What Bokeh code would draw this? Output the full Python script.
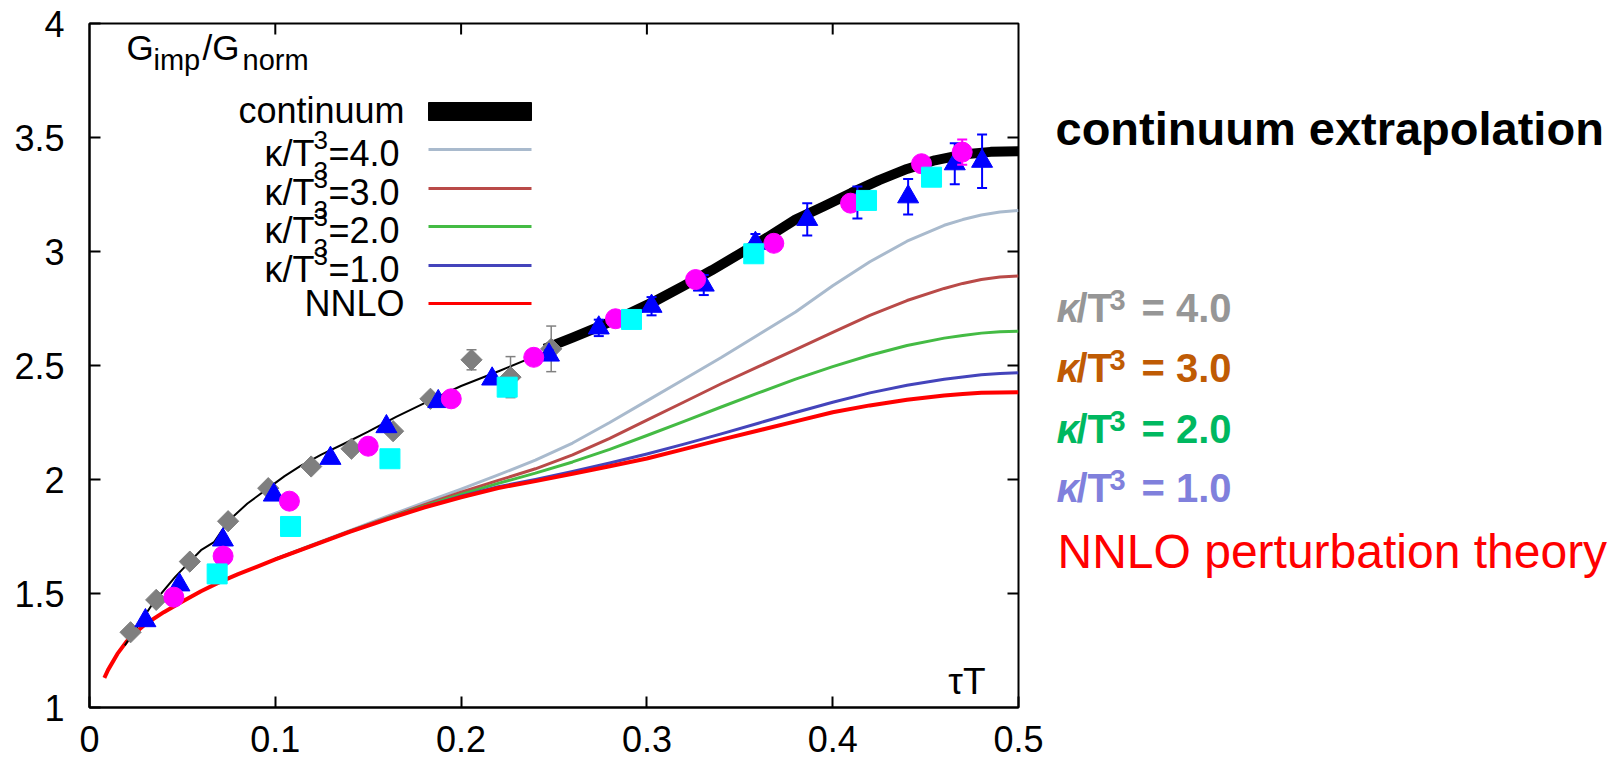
from bokeh.plotting import figure
from bokeh.layouts import row
from bokeh.models import LinearAxis, FixedTicker, Label, Range1d
from bokeh.embed import file_html
from bokeh.resources import INLINE

# ---------------- data ----------------
x_ticks = [0.0, 0.1, 0.2, 0.3, 0.4, 0.5]
x_tick_labels = ["0", "0.1", "0.2", "0.3", "0.4", "0.5"]
y_ticks = [1.0, 1.5, 2.0, 2.5, 3.0, 3.5, 4.0]
y_tick_labels = ["1", "1.5", "2", "2.5", "3", "3.5", "4"]

nnlo_x = [0.008, 0.01, 0.015, 0.02, 0.025, 0.03, 0.04, 0.05, 0.06, 0.07, 0.08, 0.09, 0.1,
          0.12, 0.14, 0.16, 0.18, 0.2, 0.22, 0.24, 0.26, 0.28, 0.3, 0.32, 0.34, 0.36, 0.38,
          0.4, 0.42, 0.44, 0.46, 0.47, 0.48, 0.49, 0.5]
nnlo_y = [1.13, 1.165, 1.235, 1.29, 1.33, 1.365, 1.418, 1.465, 1.51, 1.55, 1.585, 1.617, 1.65,
          1.71, 1.77, 1.825, 1.877, 1.922, 1.963, 1.993, 2.025, 2.058, 2.092, 2.133, 2.175, 2.215,
          2.255, 2.295, 2.325, 2.35, 2.368, 2.375, 2.38, 2.382, 2.383]

k1_x = [0.1, 0.12, 0.14, 0.16, 0.18, 0.2, 0.22, 0.24, 0.26, 0.28, 0.3, 0.32, 0.34, 0.36, 0.38,
        0.4, 0.42, 0.44, 0.46, 0.47, 0.48, 0.49, 0.5]
k1_y = [1.65, 1.71, 1.771, 1.827, 1.879, 1.927, 1.968, 2.0, 2.035, 2.072, 2.112, 2.155, 2.2,
        2.247, 2.294, 2.339, 2.38, 2.413, 2.44, 2.45, 2.459, 2.465, 2.468]

k2_x = [0.1, 0.12, 0.14, 0.16, 0.18, 0.2, 0.22, 0.24, 0.26, 0.28, 0.3, 0.32, 0.34, 0.36, 0.38,
        0.4, 0.42, 0.44, 0.46, 0.47, 0.48, 0.49, 0.5]
k2_y = [1.65, 1.711, 1.772, 1.829, 1.883, 1.935, 1.983, 2.028, 2.077, 2.132, 2.193, 2.255, 2.318,
        2.38, 2.44, 2.495, 2.545, 2.588, 2.62, 2.632, 2.642, 2.648, 2.65]

k3_x = [0.1, 0.12, 0.14, 0.16, 0.18, 0.2, 0.22, 0.24, 0.26, 0.28, 0.3, 0.32, 0.34, 0.36, 0.38,
        0.4, 0.42, 0.44, 0.46, 0.47, 0.48, 0.49, 0.5]
k3_y = [1.651, 1.712, 1.774, 1.832, 1.889, 1.944, 1.996, 2.047, 2.108, 2.18, 2.26, 2.34, 2.42,
        2.495, 2.57, 2.645, 2.72, 2.785, 2.838, 2.86, 2.877, 2.888, 2.893]

k4_x = [0.1, 0.12, 0.14, 0.16, 0.18, 0.2, 0.22, 0.24, 0.26, 0.28, 0.3, 0.32, 0.34, 0.36, 0.38,
        0.4, 0.42, 0.44, 0.46, 0.47, 0.48, 0.49, 0.5]
k4_y = [1.652, 1.714, 1.776, 1.838, 1.898, 1.958, 2.02, 2.085, 2.16, 2.25, 2.345, 2.44, 2.535,
        2.635, 2.735, 2.85, 2.955, 3.045, 3.115, 3.14, 3.16, 3.173, 3.18]

cont_thin_x = [0.019, 0.027, 0.034, 0.046, 0.054, 0.06, 0.067, 0.0746, 0.085, 0.0962, 0.105, 0.1136,
               0.125, 0.1378, 0.15, 0.165, 0.1853, 0.2, 0.2212, 0.235, 0.25]
cont_thin_y = [1.272, 1.37, 1.455, 1.572, 1.64, 1.69, 1.725, 1.817, 1.895, 1.962, 2.015, 2.06,
               2.11, 2.16, 2.21, 2.275, 2.355, 2.41, 2.478, 2.525, 2.575]

cont_x = [0.245, 0.26, 0.275, 0.29, 0.305, 0.32, 0.335, 0.35, 0.365, 0.38, 0.395, 0.41, 0.425,
          0.44, 0.455, 0.47, 0.485, 0.5]
cont_y = [2.574, 2.622, 2.673, 2.727, 2.785, 2.85, 2.918, 2.99, 3.063, 3.14, 3.197, 3.257, 3.313,
          3.362, 3.4, 3.425, 3.437, 3.44]

gray_x = [0.0221, 0.0359, 0.054, 0.0746, 0.0962, 0.1193, 0.141, 0.1634, 0.1835, 0.2056, 0.2266, 0.2485]
gray_y = [1.330, 1.472, 1.640, 1.817, 1.962, 2.057, 2.135, 2.212, 2.354, 2.525, 2.449, 2.573]
gray_err = [0.0, 0.0, 0.0, 0.0, 0.0, 0.0, 0.0, 0.0, 0.02, 0.044, 0.09, 0.10]

blue_x = [0.0301, 0.0484, 0.0718, 0.0992, 0.1297, 0.1598, 0.1877, 0.2167, 0.2473, 0.2741, 0.3025,
          0.3306, 0.3584, 0.3863, 0.4133, 0.4406, 0.4657, 0.4804]
blue_y = [1.381, 1.538, 1.735, 1.932, 2.093, 2.232, 2.342, 2.441, 2.546, 2.665, 2.76, 2.853,
          3.036, 3.141, 3.215, 3.240, 3.385, 3.396]
blue_err = [0.01, 0.01, 0.01, 0.01, 0.01, 0.01, 0.015, 0.015, 0.02, 0.036, 0.04, 0.044,
            0.041, 0.071, 0.07, 0.078, 0.09, 0.117]

mag_x = [0.0454, 0.0719, 0.1076, 0.15, 0.1947, 0.2391, 0.2831, 0.3262, 0.3683, 0.4096, 0.4478, 0.4697]
mag_y = [1.484, 1.664, 1.905, 2.146, 2.354, 2.536, 2.705, 2.877, 3.036, 3.212, 3.385, 3.436]
mag_err = [0.0, 0.0, 0.0, 0.0, 0.0, 0.0, 0.0, 0.0, 0.0, 0.0, 0.0, 0.055]

cyan_x = [0.0687, 0.1082, 0.1617, 0.2248, 0.2917, 0.3575, 0.4182, 0.4532]
cyan_y = [1.586, 1.794, 2.091, 2.405, 2.702, 2.990, 3.224, 3.326]

kappa_values = ["4.0", "3.0", "2.0", "1.0"]
kappa_line_colors = ["#a9bacd", "#b94a48", "#44bb44", "#4444bb"]
kappa_text_colors = ["#969696", "#bf5b04", "#00b860", "#8080dc"]

# ---------------- layout helpers (pixel -> data) ----------------
L, R, T, B = 89, 1018, 23, 707
PW = R + 30          # width of the plot figure
def dx(px):
    return (px - L) / (R - L) * 0.5
def dy(py):
    return 1 + (B - py) / (B - T) * 3.0

FONT = "Liberation Sans"

p = figure(width=PW, height=765, x_range=(0, 0.5), y_range=(1, 4), title=None,
           output_backend="svg", toolbar_location=None,
           x_axis_type=None, y_axis_type=None,
           min_border_left=L, min_border_right=PW - R,
           min_border_top=T, min_border_bottom=765 - B)
p.background_fill_color = "white"
p.border_fill_color = "white"
p.outline_line_color = "black"
p.outline_line_width = 2


def style_axis(ax, ticks, labels, standoff):
    ax.ticker = FixedTicker(ticks=ticks)
    ax.major_label_overrides = {t: l for t, l in zip(ticks, labels)}
    ax.major_tick_in = 11
    ax.major_tick_out = 0
    ax.major_tick_line_width = 2
    ax.major_tick_line_color = "black"
    ax.minor_tick_line_color = None
    ax.axis_line_width = 2
    ax.axis_line_color = "black"
    ax.major_label_text_font = FONT
    ax.major_label_text_color = "black"
    ax.major_label_standoff = standoff
    ax.major_label_text_font_size = "36px"


xb = LinearAxis()
style_axis(xb, x_ticks, x_tick_labels, 18)
p.add_layout(xb, "below")
yl = LinearAxis()
style_axis(yl, y_ticks, y_tick_labels, 25)
p.add_layout(yl, "left")

# mirror ticks on top and right frame edges
p.segment(x0=x_ticks[1:-1], y0=[4.0] * 4, x1=x_ticks[1:-1], y1=[dy(T + 11)] * 4,
          line_color="black", line_width=2)
p.segment(x0=[0.5] * 5, y0=y_ticks[1:-1], x1=[dx(R - 11)] * 5, y1=y_ticks[1:-1],
          line_color="black", line_width=2)

# ---------------- curves ----------------
for kx, ky, c in [(k4_x, k4_y, kappa_line_colors[0]), (k3_x, k3_y, kappa_line_colors[1]),
                  (k2_x, k2_y, kappa_line_colors[2]), (k1_x, k1_y, kappa_line_colors[3])]:
    p.line(kx, ky, line_color=c, line_width=3, line_join="round")
p.line(nnlo_x, nnlo_y, line_color="#ff0000", line_width=4, line_join="round")
p.line(cont_thin_x, cont_thin_y, line_color="black", line_width=2, line_join="round")
p.line(cont_x, cont_y, line_color="black", line_width=10, line_join="round")

# ---------------- data points with error bars ----------------
def errbars(xs, ys, es, color, lw):
    up = [y + e for y, e in zip(ys, es)]
    lo = [y - e for y, e in zip(ys, es)]
    p.segment(x0=xs, y0=lo, x1=xs, y1=up, line_color=color, line_width=lw)
    p.scatter(xs, up, marker="dash", size=10, line_color=color, line_width=lw)
    p.scatter(xs, lo, marker="dash", size=10, line_color=color, line_width=lw)

errbars(gray_x, gray_y, gray_err, "#808080", 1.5)
p.scatter(gray_x, gray_y, marker="square", angle=0.785398, size=15,
          fill_color="#7f7f7f", line_color="#7f7f7f")
errbars(blue_x, blue_y, blue_err, "#0000ff", 2)
p.scatter(blue_x, blue_y, marker="triangle", size=21, fill_color="#0000ff", line_color="#0000ff")
errbars(mag_x, mag_y, mag_err, "#ff00ff", 2)
p.scatter(mag_x, mag_y, marker="circle", size=20, fill_color="#ff00ff", line_color="#ff00ff")
p.scatter(cyan_x, cyan_y, marker="square", size=20, fill_color="#00ffff", line_color="#00ffff")

# ---------------- text helpers (vertical position = middle of the text) ----------------
def lab(fig, x, y, text, size, color="black", align="left", style="normal"):
    fig.add_layout(Label(x=x, y=y, text=text, text_font=FONT,
                         text_font_size=size, text_color=color, text_align=align,
                         text_baseline="middle", text_font_style=style))

def plab(px, py, text, size, color="black", align="left", style="normal"):
    lab(p, dx(px), dy(py), text, size, color, align, style)

# ---------------- in-plot legend ----------------
rows = [111, 149, 188, 226, 265, 303]
p.quad(left=dx(428), right=dx(531), top=dy(102), bottom=dy(120), fill_color="black", line_color="black")
plab(404, rows[0] - 1, "continuum", "36px", align="right")
for i, (v, c) in enumerate(zip(kappa_values, kappa_line_colors)):
    yy = rows[i + 1]
    p.line([dx(428), dx(531)], [dy(yy), dy(yy)], line_color=c, line_width=3)
    plab(328, yy + 4, "=" + v, "36px")
    plab(314, yy + 4, "κ/T", "36px", align="right")
    plab(313, yy - 10, "3", "26px")
    if i < 3:
        plab(313, yy + 21, "3", "26px")
p.line([dx(428), dx(531)], [dy(rows[5]), dy(rows[5])], line_color="#ff0000", line_width=3)
plab(404, rows[5], "NNLO", "36px", align="right")

# y-axis caption  G_imp / G_norm
plab(126, 47, "G", "35px")
plab(153, 59, "imp", "29px")
plab(202, 47, "/G", "35px")
plab(242, 59, "norm", "29px")
# x-axis caption
plab(985, 681, "τT", "37px", align="right")

# ---------------- right-hand annotations (separate panel) ----------------
# the row layout aligns this panel's frame with the plot frame (rows T..B),
# so its ranges are chosen to make the coordinates equal to page pixels
QW = 1616 - PW
q = figure(width=QW, height=765, x_range=Range1d(PW, 1616), y_range=Range1d(B, T),
           title=None, output_backend="svg", toolbar_location=None,
           x_axis_type=None, y_axis_type=None,
           min_border_left=0, min_border_right=0, min_border_top=T, min_border_bottom=765 - B)
q.outline_line_color = None
q.background_fill_color = None
q.border_fill_color = None
q.grid.visible = False

lab(q, 1055, 128, "continuum extrapolation", "47px", style="bold")
for i, (v, c) in enumerate(zip(kappa_values, kappa_text_colors)):
    mid = [307, 367, 428, 487][i]
    lab(q, 1056, mid, "κ", "40px", color=c, style="bold italic")
    lab(q, 1076, mid, "/T", "40px", color=c, style="bold")
    lab(q, 1109, mid - 8, "3", "29px", color=c, style="bold")
    lab(q, 1141, mid, "= " + v, "40px", color=c, style="bold")
lab(q, 1057, 551, "NNLO perturbation theory", "48px", color="#ff0000")

layout = row(p, q, spacing=0)
open("out.html", "w").write(file_html(layout, INLINE))
